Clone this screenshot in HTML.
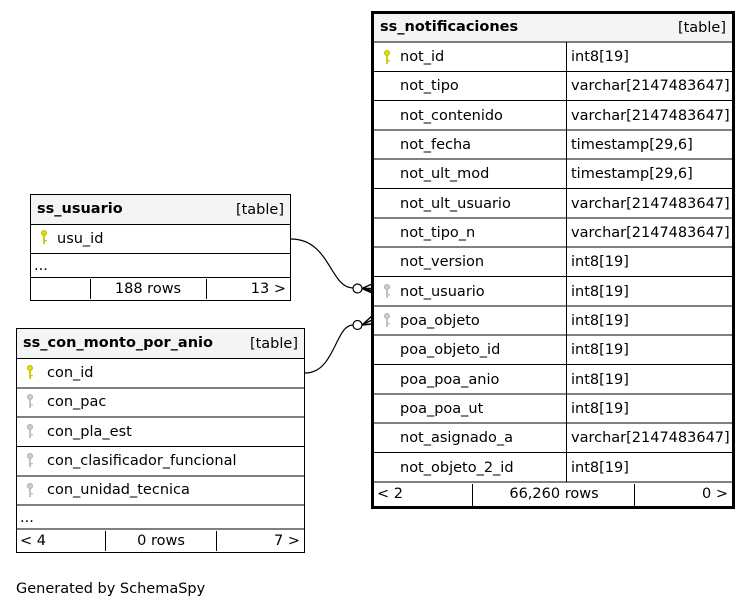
<!DOCTYPE html>
<html><head><meta charset="utf-8"><style>
html,body{margin:0;padding:0;background:#fff;width:752px;height:608px;overflow:hidden}
text{font-family:"DejaVu Sans","Liberation Sans",sans-serif;font-size:14.5px;fill:#000}
.b{font-weight:bold}
</style></head><body>
<svg width="752" height="608" viewBox="0 0 752 608" xmlns="http://www.w3.org/2000/svg">
<defs>
<g id="ky"><circle cx="0" cy="0" r="2.6" fill="#dddd00" stroke="#b8b800" stroke-width="0.8"/><rect x="-0.9" y="2" width="1.8" height="9" fill="#c8c800"/><rect x="0.9" y="7" width="2" height="1.4" fill="#c8c800"/></g>
<g id="kg"><circle cx="0" cy="0" r="2.6" fill="#ccc" stroke="#aaa" stroke-width="0.8"/><rect x="-0.9" y="2" width="1.8" height="9" fill="#bbb"/><rect x="0.9" y="7" width="2" height="1.4" fill="#bbb"/></g>
</defs>

<path d="M291,239 C330,239 330,288 353,288" fill="none" stroke="#000" stroke-width="1.2"/>
<circle cx="357.5" cy="288.5" r="4.5" fill="#fff" stroke="#000" stroke-width="1.2"/>
<path d="M362,288.5 L372,284 M362,288.5 L372,293 M362,288.5 L372,288.5 M364,288.5 L372,291" stroke="#000" stroke-width="1.5" fill="none"/>
<path d="M305,373 C335,373 335,325 353,325" fill="none" stroke="#000" stroke-width="1.2"/>
<circle cx="357.5" cy="325" r="4.5" fill="#fff" stroke="#000" stroke-width="1.2"/>
<path d="M362,325 L372,316 M362,325 L372,324 M362,325 L372,320" stroke="#000" stroke-width="1.5" fill="none"/>

<rect x="372" y="12" width="362" height="30" fill="#f4f4f4"/>
<g stroke="#000" stroke-width="1" fill="none">
<line x1="372" y1="42" x2="734" y2="42"/>
<line x1="372" y1="71.5" x2="734" y2="71.5"/>
<line x1="372" y1="100.5" x2="734" y2="100.5"/>
<line x1="372" y1="130" x2="734" y2="130"/>
<line x1="372" y1="159" x2="734" y2="159"/>
<line x1="372" y1="188.5" x2="734" y2="188.5"/>
<line x1="372" y1="218" x2="734" y2="218"/>
<line x1="372" y1="247" x2="734" y2="247"/>
<line x1="372" y1="276.5" x2="734" y2="276.5"/>
<line x1="372" y1="306" x2="734" y2="306"/>
<line x1="372" y1="335" x2="734" y2="335"/>
<line x1="372" y1="364.5" x2="734" y2="364.5"/>
<line x1="372" y1="394" x2="734" y2="394"/>
<line x1="372" y1="423" x2="734" y2="423"/>
<line x1="372" y1="452.5" x2="734" y2="452.5"/>
<line x1="372" y1="482" x2="734" y2="482"/>
<line x1="566.5" y1="42" x2="566.5" y2="482"/>
<line x1="472.5" y1="484" x2="472.5" y2="506"/>
<line x1="634.5" y1="484" x2="634.5" y2="506"/>
</g>
<rect x="372.5" y="12.5" width="361" height="495" fill="none" stroke="#000" stroke-width="3"/>
<text x="380" y="31" class="b">ss_notificaciones</text>
<text x="726" y="32" text-anchor="end">[table]</text>
<use href="#ky" x="387" y="53"/>
<use href="#kg" x="387" y="287"/>
<use href="#kg" x="387" y="316"/>
<g>
<text x="400" y="61">not_id</text><text x="571" y="61">int8[19]</text>
<text x="400" y="90">not_tipo</text><text x="571" y="90">varchar[2147483647]</text>
<text x="400" y="120">not_contenido</text><text x="571" y="120">varchar[2147483647]</text>
<text x="400" y="149">not_fecha</text><text x="571" y="149">timestamp[29,6]</text>
<text x="400" y="178">not_ult_mod</text><text x="571" y="178">timestamp[29,6]</text>
<text x="400" y="208">not_ult_usuario</text><text x="571" y="208">varchar[2147483647]</text>
<text x="400" y="237">not_tipo_n</text><text x="571" y="237">varchar[2147483647]</text>
<text x="400" y="266">not_version</text><text x="571" y="266">int8[19]</text>
<text x="400" y="296">not_usuario</text><text x="571" y="296">int8[19]</text>
<text x="400" y="325">poa_objeto</text><text x="571" y="325">int8[19]</text>
<text x="400" y="354">poa_objeto_id</text><text x="571" y="354">int8[19]</text>
<text x="400" y="384">poa_poa_anio</text><text x="571" y="384">int8[19]</text>
<text x="400" y="413">poa_poa_ut</text><text x="571" y="413">int8[19]</text>
<text x="400" y="442">not_asignado_a</text><text x="571" y="442">varchar[2147483647]</text>
<text x="400" y="472">not_objeto_2_id</text><text x="571" y="472">int8[19]</text>
<text x="377" y="498">&lt; 2</text>
<text x="554" y="498" text-anchor="middle">66,260 rows</text>
<text x="728" y="498" text-anchor="end">0 &gt;</text>
</g>

<rect x="30.5" y="194.5" width="260" height="30" fill="#f4f4f4" stroke="#000"/>
<rect x="30.5" y="224.5" width="260" height="76" fill="none" stroke="#000"/>
<g stroke="#000"><line x1="30" y1="253.5" x2="291" y2="253.5"/><line x1="30" y1="277.5" x2="291" y2="277.5"/>
<line x1="90.5" y1="279" x2="90.5" y2="299"/><line x1="206.5" y1="279" x2="206.5" y2="299"/></g>
<text x="37" y="213" class="b">ss_usuario</text>
<text x="284" y="214" text-anchor="end">[table]</text>
<use href="#ky" x="44" y="233"/>
<text x="57" y="243">usu_id</text>
<text x="34" y="270">...</text>
<text x="148" y="293" text-anchor="middle">188 rows</text>
<text x="286" y="293" text-anchor="end">13 &gt;</text>

<rect x="16.5" y="328.5" width="288" height="30" fill="#f4f4f4" stroke="#000"/>
<rect x="16.5" y="358.5" width="288" height="194" fill="none" stroke="#000"/>
<g stroke="#000">
<line x1="16" y1="388" x2="305" y2="388"/><line x1="16" y1="417" x2="305" y2="417"/>
<line x1="16" y1="446.5" x2="305" y2="446.5"/><line x1="16" y1="476" x2="305" y2="476"/>
<line x1="16" y1="505" x2="305" y2="505"/><line x1="16" y1="529" x2="305" y2="529"/>
<line x1="105.5" y1="531" x2="105.5" y2="551"/><line x1="216.5" y1="531" x2="216.5" y2="551"/></g>
<text x="23" y="347" class="b">ss_con_monto_por_anio</text>
<text x="298" y="348" text-anchor="end">[table]</text>
<use href="#ky" x="30" y="368"/>
<use href="#kg" x="30" y="397"/>
<use href="#kg" x="30" y="427"/>
<use href="#kg" x="30" y="456"/>
<use href="#kg" x="30" y="486"/>
<text x="47" y="377">con_id</text>
<text x="47" y="406">con_pac</text>
<text x="47" y="436">con_pla_est</text>
<text x="47" y="465">con_clasificador_funcional</text>
<text x="47" y="494">con_unidad_tecnica</text>
<text x="20" y="522">...</text>
<text x="20" y="545">&lt; 4</text>
<text x="161" y="545" text-anchor="middle">0 rows</text>
<text x="300" y="545" text-anchor="end">7 &gt;</text>

<text x="16" y="593">Generated by SchemaSpy</text>
</svg>
</body></html>
